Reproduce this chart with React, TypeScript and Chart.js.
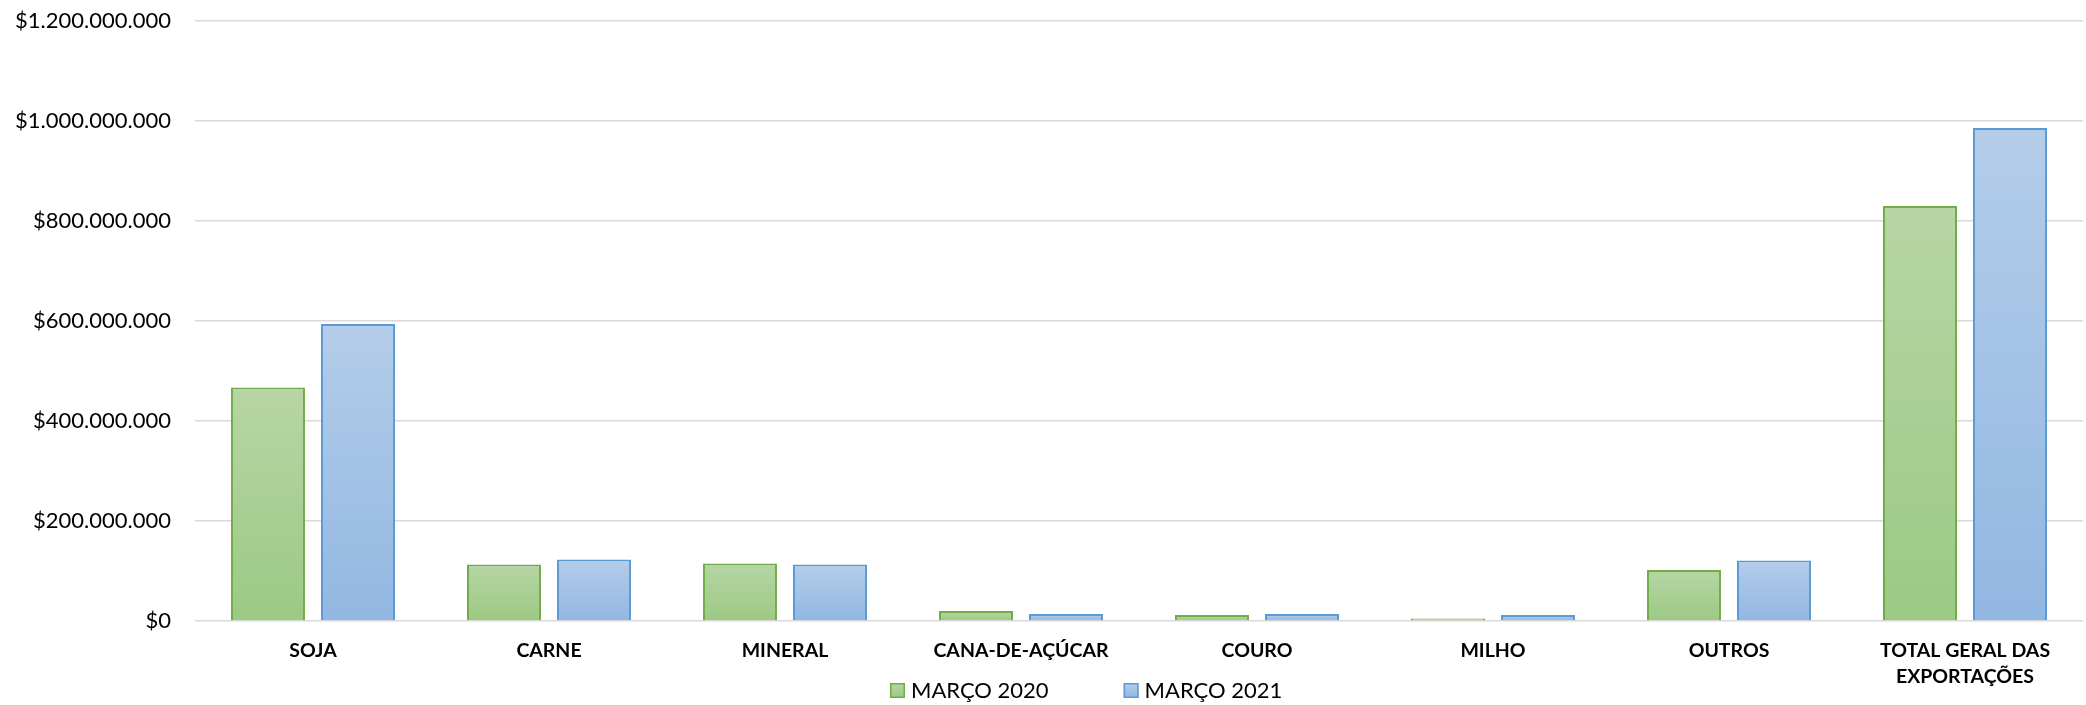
import React, { useEffect, useRef } from "react";
import { Chart, registerables } from "chart.js";

Chart.register(...registerables);

const categories: (string | string[])[] = [
  "SOJA",
  "CARNE",
  "MINERAL",
  "CANA-DE-AÇÚCAR",
  "COURO",
  "MILHO",
  "OUTROS",
  ["TOTAL GERAL DAS", "EXPORTAÇÕES"],
];

const seriesLabels = ["MARÇO 2020", "MARÇO 2021"];

const marco2020 = [467000000, 113000000, 115000000, 20000000, 12000000, 5000000, 102000000, 830000000];
const marco2021 = [594000000, 123000000, 113000000, 14000000, 14000000, 12000000, 121000000, 986000000];

const yTicks = [0, 200000000, 400000000, 600000000, 800000000, 1000000000, 1200000000];

const GREEN = { top: "#b6d6a5", bottom: "#9cc983", border: "#70ad47" };
const BLUE = { top: "#b4cde9", bottom: "#92b7e2", border: "#5b9bd5" };

const FONT = "Lato, 'Open Sans', 'DejaVu Sans', sans-serif";

function fmt(v: number): string {
  return "$" + Math.round(v).toString().replace(/\B(?=(\d{3})+(?!\d))/g, ".");
}

function barGradient(pal: { top: string; bottom: string }) {
  return (ctx: any) => {
    const chart = ctx.chart;
    const ys = chart.scales && chart.scales.y;
    if (!chart.chartArea || !ys || ctx.raw == null) return pal.bottom;
    const top = ys.getPixelForValue(ctx.raw);
    const base = ys.getPixelForValue(0);
    if (!isFinite(top) || !isFinite(base) || Math.abs(base - top) < 0.5) return pal.bottom;
    const g = chart.ctx.createLinearGradient(0, top, 0, base);
    g.addColorStop(0, pal.top);
    g.addColorStop(1, pal.bottom);
    return g;
  };
}

const customLegend = {
  id: "customLegend",
  afterDraw(chart: any) {
    const ctx = chart.ctx;
    const pals = [GREEN, BLUE];
    ctx.save();
    ctx.font = `22px ${FONT}`;
    ctx.textBaseline = "alphabetic";
    ctx.textAlign = "left";
    let x = 890;
    const boxTop = 683;
    const box = 15;
    chart.data.datasets.forEach((ds: any, i: number) => {
      const pal = pals[i];
      const g = ctx.createLinearGradient(0, boxTop, 0, boxTop + box);
      g.addColorStop(0, pal.top);
      g.addColorStop(1, pal.bottom);
      ctx.fillStyle = g;
      ctx.fillRect(x, boxTop, box, box);
      ctx.strokeStyle = pal.border;
      ctx.lineWidth = 1.5;
      ctx.strokeRect(x + 0.75, boxTop + 0.75, box - 1.5, box - 1.5);
      ctx.fillStyle = "#000";
      const tx = x + box + 6;
      ctx.fillText(ds.label, tx, 698);
      const w = ctx.measureText(ds.label).width;
      x = tx + w + 75;
    });
    ctx.restore();
  },
};

export default function App() {
  const canvasRef = useRef<HTMLCanvasElement | null>(null);

  useEffect(() => {
    if (!canvasRef.current) return;
    const chart = new Chart(canvasRef.current, {
      type: "bar",
      data: {
        labels: categories as any,
        datasets: [
          {
            label: seriesLabels[0],
            data: marco2020,
            backgroundColor: barGradient(GREEN) as any,
            borderColor: GREEN.border,
            borderWidth: 2,
            borderSkipped: "start",
            categoryPercentage: 0.763,
            barPercentage: 0.822,
          },
          {
            label: seriesLabels[1],
            data: marco2021,
            backgroundColor: barGradient(BLUE) as any,
            borderColor: BLUE.border,
            borderWidth: 2,
            borderSkipped: "start",
            categoryPercentage: 0.763,
            barPercentage: 0.822,
          },
        ],
      },
      options: {
        responsive: false,
        animation: false,
        devicePixelRatio: 1,
        layout: { padding: { top: 21, right: 3, bottom: 0, left: 0 } },
        plugins: {
          legend: { display: false },
          tooltip: { enabled: false },
          title: { display: false },
        },
        scales: {
          x: {
            grid: { display: false, drawTicks: false },
            border: { display: false },
            ticks: {
              color: "#000",
              padding: 17,
              maxRotation: 0,
              autoSkip: false,
              font: { family: FONT, size: 19.5, weight: "bold", lineHeight: 1.333 },
            },
            afterFit: (axis: any) => {
              axis.height = 84;
            },
          },
          y: {
            min: 0,
            max: 1200000000,
            afterBuildTicks: (axis: any) => {
              axis.ticks = yTicks.map((v) => ({ value: v }));
            },
            grid: { color: "#d9d9d9", lineWidth: 1.5, drawTicks: false },
            border: { display: false },
            ticks: {
              color: "#000",
              padding: 24,
              font: { family: FONT, size: 22 },
              callback: (v: any) => fmt(Number(v)),
            },
            afterFit: (axis: any) => {
              axis.width = 195;
              axis.paddingTop = 0;
              axis.paddingBottom = 0;
            },
          },
        },
      },
      plugins: [customLegend],
    });
    return () => chart.destroy();
  }, []);

  return (
    <div style={{ position: "fixed", left: 0, top: 0, width: 2086, height: 705, background: "#fff" }}>
      <canvas ref={canvasRef} width={2086} height={705} style={{ display: "block", width: 2086, height: 705 }} />
    </div>
  );
}
